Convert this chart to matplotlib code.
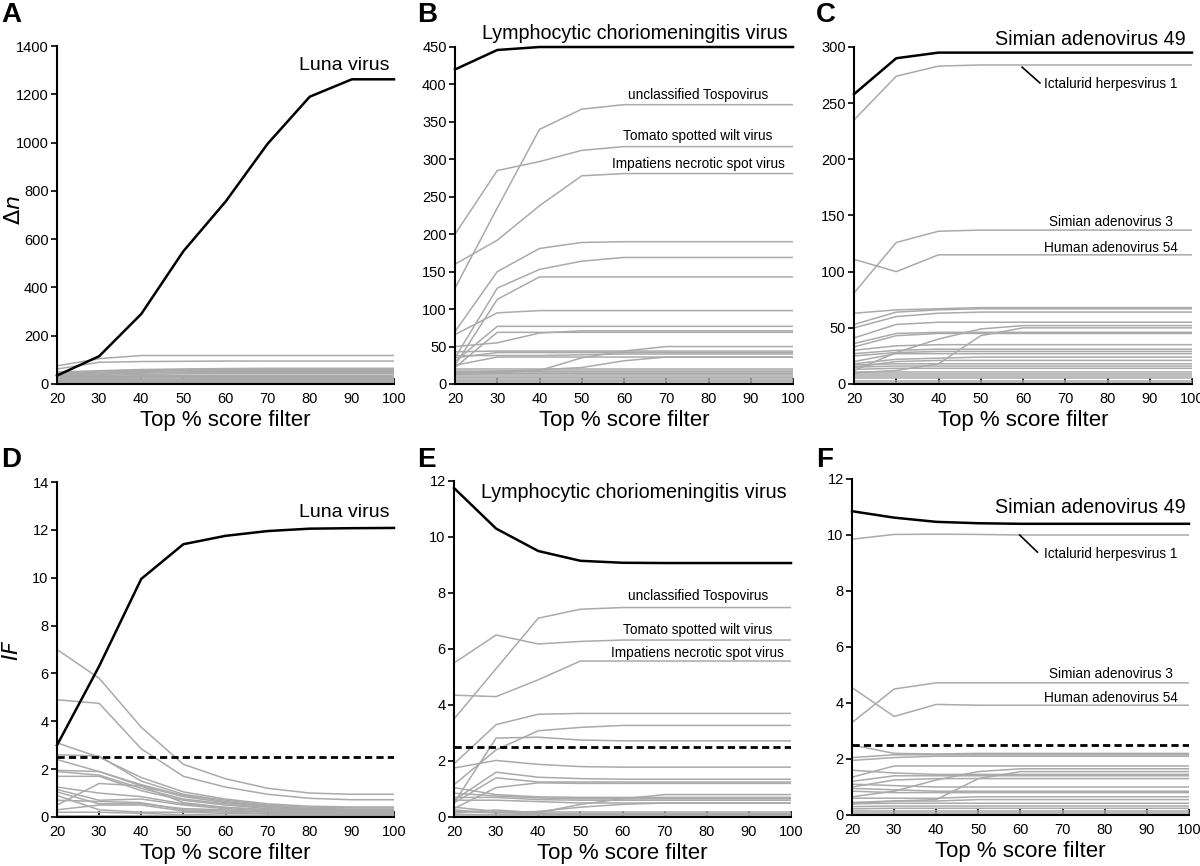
import matplotlib
matplotlib.use("Agg")
import matplotlib.pyplot as plt

plt.rcParams['font.family'] = ['Liberation Sans', 'DejaVu Sans']

x_filter = [20, 30, 40, 50, 60, 70, 80, 90, 100]

# panel A: delta n, Luna virus
luna_dn = [35, 115, 290, 550, 755, 995, 1190, 1262, 1262]
luna_dn_others = [
    [75, 105, 118, 118, 118, 118, 118, 118, 118],
    [62, 90, 93, 94, 95, 95, 95, 95, 95],
    [50, 55, 60, 62, 64, 65, 65, 65, 65],
    [45, 52, 58, 60, 62, 63, 63, 63, 63],
    [40, 50, 55, 58, 60, 60, 60, 60, 60],
    [38, 45, 52, 55, 57, 57, 57, 57, 57],
    [35, 42, 48, 50, 52, 52, 52, 52, 52],
    [30, 40, 45, 47, 48, 48, 48, 48, 48],
    [28, 35, 40, 42, 43, 43, 43, 43, 43],
    [25, 32, 34, 35, 36, 36, 36, 36, 36],
    [22, 28, 31, 32, 33, 33, 33, 33, 33],
    [20, 25, 28, 29, 30, 30, 30, 30, 30],
    [18, 22, 25, 26, 26, 26, 26, 26, 26],
    [15, 18, 20, 21, 22, 22, 22, 22, 22],
    [12, 15, 17, 18, 18, 18, 18, 18, 18],
    [10, 12, 14, 14, 14, 14, 14, 14, 14],
    [8, 9, 10, 10, 10, 10, 10, 10, 10],
    [5, 6, 6, 6, 6, 6, 6, 6, 6],
    [3, 3, 3, 3, 3, 3, 3, 3, 3],
]

# panel B: delta n, LCMV
lcmv_dn = [420, 446, 450, 450, 450, 450, 450, 450, 450]
lcmv_dn_others = [
    [128, 235, 340, 367, 373, 373, 373, 373, 373],
    [200, 285, 297, 312, 317, 317, 317, 317, 317],
    [160, 192, 238, 278, 281, 281, 281, 281, 281],
    [70, 150, 181, 189, 190, 190, 190, 190, 190],
    [35, 128, 153, 164, 169, 169, 169, 169, 169],
    [25, 113, 143, 143, 143, 143, 143, 143, 143],
    [66, 95, 98, 98, 98, 98, 98, 98, 98],
    [30, 77, 77, 77, 77, 77, 77, 77, 77],
    [50, 55, 68, 71, 71, 71, 71, 71, 71],
    [22, 69, 69, 69, 69, 69, 69, 69, 69],
    [15, 15, 18, 35, 44, 50, 50, 50, 50],
    [14, 17, 19, 22, 31, 36, 36, 36, 36],
    [43, 44, 44, 44, 44, 44, 44, 44, 44],
    [35, 42, 42, 42, 42, 42, 42, 42, 42],
    [38, 38, 38, 39, 40, 40, 40, 40, 40],
    [25, 36, 36, 36, 36, 36, 36, 36, 36],
    [20, 20, 20, 20, 20, 20, 20, 20, 20],
    [18, 18, 18, 18, 18, 18, 18, 18, 18],
    [16, 16, 16, 16, 16, 16, 16, 16, 16],
    [13, 14, 14, 14, 14, 14, 14, 14, 14],
    [12, 12, 12, 12, 12, 12, 12, 12, 12],
    [10, 10, 10, 10, 10, 10, 10, 10, 10],
    [8, 8, 8, 8, 8, 8, 8, 8, 8],
    [6, 6, 6, 6, 6, 6, 6, 6, 6],
    [4, 4, 4, 4, 4, 4, 4, 4, 4],
    [2, 2, 2, 2, 2, 2, 2, 2, 2],
]

# panel C: delta n, Simian adenovirus 49
sadv_dn = [258, 290, 295, 295, 295, 295, 295, 295, 295]
sadv_dn_others = [
    [235, 274, 283, 284, 284, 284, 284, 284, 284],
    [81, 126, 136, 137, 137, 137, 137, 137, 137],
    [111, 100, 115, 115, 115, 115, 115, 115, 115],
    [63, 66, 67, 68, 68, 68, 68, 68, 68],
    [53, 64, 66, 67, 67, 67, 67, 67, 67],
    [50, 60, 63, 64, 64, 64, 64, 64, 64],
    [41, 53, 55, 55, 55, 55, 55, 55, 55],
    [12, 28, 40, 49, 52, 52, 52, 52, 52],
    [10, 12, 18, 43, 50, 50, 50, 50, 50],
    [36, 45, 46, 46, 46, 46, 46, 46, 46],
    [33, 43, 45, 45, 45, 45, 45, 45, 45],
    [30, 34, 35, 35, 35, 35, 35, 35, 35],
    [27, 30, 31, 31, 31, 31, 31, 31, 31],
    [25, 28, 29, 29, 29, 29, 29, 29, 29],
    [20, 27, 27, 27, 27, 27, 27, 27, 27],
    [18, 22, 23, 24, 24, 24, 24, 24, 24],
    [15, 20, 21, 21, 21, 21, 21, 21, 21],
    [17, 18, 18, 18, 18, 18, 18, 18, 18],
    [15, 16, 16, 16, 16, 16, 16, 16, 16],
    [13, 14, 14, 14, 14, 14, 14, 14, 14],
    [11, 11, 11, 11, 11, 11, 11, 11, 11],
    [9, 9, 9, 9, 9, 9, 9, 9, 9],
    [7, 7, 7, 7, 7, 7, 7, 7, 7],
    [5, 5, 5, 5, 5, 5, 5, 5, 5],
    [3, 3, 3, 3, 3, 3, 3, 3, 3],
    [1, 1, 1, 1, 1, 1, 1, 1, 1],
]

# panel D: IF, Luna virus
luna_if = [3.0, 6.3, 9.95, 11.4, 11.75, 11.95, 12.05, 12.07, 12.08]
luna_if_others = [
    [7.0, 5.8, 3.75, 2.2, 1.6, 1.2, 1.0, 0.95, 0.95],
    [4.9, 4.75, 2.85, 1.7, 1.25, 0.95, 0.78, 0.72, 0.72],
    [3.1, 2.5, 1.65, 1.05, 0.75, 0.55, 0.45, 0.42, 0.42],
    [2.6, 2.55, 1.5, 0.95, 0.7, 0.5, 0.4, 0.38, 0.38],
    [2.4, 1.9, 1.35, 0.9, 0.65, 0.45, 0.35, 0.33, 0.33],
    [1.95, 1.9, 1.3, 0.85, 0.6, 0.45, 0.35, 0.3, 0.3],
    [1.9, 1.75, 1.2, 0.75, 0.55, 0.4, 0.3, 0.28, 0.28],
    [1.7, 1.7, 1.1, 0.7, 0.5, 0.35, 0.3, 0.25, 0.25],
    [1.25, 1.0, 0.85, 0.55, 0.4, 0.3, 0.25, 0.22, 0.22],
    [1.15, 0.7, 0.75, 0.5, 0.35, 0.25, 0.2, 0.2, 0.2],
    [0.5, 1.4, 1.3, 0.6, 0.4, 0.3, 0.25, 0.22, 0.22],
    [1.05, 0.55, 0.55, 0.35, 0.3, 0.2, 0.18, 0.15, 0.15],
    [0.9, 0.3, 0.2, 0.2, 0.15, 0.12, 0.1, 0.1, 0.1],
    [0.7, 0.65, 0.6, 0.3, 0.25, 0.2, 0.15, 0.12, 0.12],
    [0.3, 0.5, 0.5, 0.25, 0.2, 0.15, 0.12, 0.1, 0.1],
    [0.2, 0.2, 0.15, 0.1, 0.08, 0.06, 0.05, 0.05, 0.05],
    [0.05, 0.05, 0.05, 0.05, 0.03, 0.03, 0.03, 0.03, 0.03],
]

# panel E: IF, LCMV
lcmv_if = [11.75, 10.3, 9.5, 9.15, 9.08, 9.07, 9.07, 9.07, 9.07]
lcmv_if_others = [
    [3.5, 5.3, 7.1, 7.42, 7.48, 7.48, 7.48, 7.48, 7.48],
    [5.5, 6.5, 6.18, 6.27, 6.32, 6.32, 6.32, 6.32, 6.32],
    [4.35, 4.3, 4.9, 5.57, 5.57, 5.57, 5.57, 5.57, 5.57],
    [1.9, 3.3, 3.67, 3.7, 3.7, 3.7, 3.7, 3.7, 3.7],
    [1.15, 2.4, 3.08, 3.2, 3.27, 3.27, 3.27, 3.27, 3.27],
    [0.5, 2.82, 2.85, 2.75, 2.72, 2.72, 2.72, 2.72, 2.72],
    [1.75, 2.02, 1.88, 1.8, 1.78, 1.78, 1.78, 1.78, 1.78],
    [0.6, 1.6, 1.42, 1.37, 1.35, 1.35, 1.35, 1.35, 1.35],
    [0.5, 1.4, 1.25, 1.25, 1.25, 1.25, 1.25, 1.25, 1.25],
    [0.3, 1.05, 1.22, 1.2, 1.2, 1.2, 1.2, 1.2, 1.2],
    [0.15, 0.25, 0.15, 0.45, 0.65, 0.8, 0.8, 0.8, 0.8],
    [1.05, 0.8, 0.72, 0.7, 0.7, 0.7, 0.7, 0.7, 0.7],
    [0.85, 0.75, 0.68, 0.65, 0.65, 0.65, 0.65, 0.65, 0.65],
    [0.7, 0.7, 0.62, 0.6, 0.6, 0.6, 0.6, 0.6, 0.6],
    [0.6, 0.6, 0.55, 0.5, 0.5, 0.5, 0.5, 0.5, 0.5],
    [0.2, 0.15, 0.2, 0.35, 0.45, 0.5, 0.5, 0.5, 0.5],
    [0.35, 0.2, 0.18, 0.18, 0.18, 0.18, 0.18, 0.18, 0.18],
    [0.25, 0.15, 0.12, 0.12, 0.12, 0.12, 0.12, 0.12, 0.12],
    [0.1, 0.08, 0.08, 0.08, 0.08, 0.08, 0.08, 0.08, 0.08],
    [0.04, 0.04, 0.04, 0.04, 0.04, 0.04, 0.04, 0.04, 0.04],
]

# panel F: IF, Simian adenovirus 49
sadv_if = [10.85, 10.62, 10.47, 10.42, 10.4, 10.4, 10.4, 10.4, 10.4]
sadv_if_others = [
    [9.85, 10.02, 10.03, 10.02, 10.0, 10.0, 10.0, 10.0, 10.0],
    [3.3, 4.5, 4.72, 4.72, 4.72, 4.72, 4.72, 4.72, 4.72],
    [4.55, 3.52, 3.95, 3.92, 3.92, 3.92, 3.92, 3.92, 3.92],
    [2.5, 2.2, 2.18, 2.2, 2.2, 2.2, 2.2, 2.2, 2.2],
    [2.05, 2.15, 2.15, 2.15, 2.15, 2.15, 2.15, 2.15, 2.15],
    [1.95, 2.05, 2.1, 2.1, 2.1, 2.1, 2.1, 2.1, 2.1],
    [1.35, 1.75, 1.75, 1.75, 1.75, 1.75, 1.75, 1.75, 1.75],
    [1.6, 1.5, 1.45, 1.45, 1.45, 1.45, 1.45, 1.45, 1.45],
    [1.2, 1.4, 1.4, 1.4, 1.4, 1.4, 1.4, 1.4, 1.4],
    [1.0, 1.25, 1.3, 1.3, 1.3, 1.3, 1.3, 1.3, 1.3],
    [0.65, 0.85, 1.25, 1.55, 1.65, 1.65, 1.65, 1.65, 1.65],
    [0.4, 0.5, 0.55, 1.3, 1.55, 1.55, 1.55, 1.55, 1.55],
    [0.95, 0.9, 0.85, 0.85, 0.85, 0.85, 0.85, 0.85, 0.85],
    [0.85, 0.8, 0.8, 0.8, 0.8, 0.8, 0.8, 0.8, 0.8],
    [1.1, 1.05, 1.0, 1.0, 1.0, 1.0, 1.0, 1.0, 1.0],
    [0.6, 0.6, 0.6, 0.65, 0.65, 0.65, 0.65, 0.65, 0.65],
    [0.45, 0.5, 0.5, 0.55, 0.55, 0.55, 0.55, 0.55, 0.55],
    [0.4, 0.42, 0.42, 0.42, 0.42, 0.42, 0.42, 0.42, 0.42],
    [0.3, 0.32, 0.32, 0.32, 0.32, 0.32, 0.32, 0.32, 0.32],
    [0.22, 0.24, 0.24, 0.24, 0.24, 0.24, 0.24, 0.24, 0.24],
    [0.15, 0.15, 0.15, 0.15, 0.15, 0.15, 0.15, 0.15, 0.15],
    [0.08, 0.08, 0.08, 0.08, 0.08, 0.08, 0.08, 0.08, 0.08],
]

GRAY = '#aaaaaa'
W, H = 1200, 866
DASH = (2.6, 1.5)


def make_ax(fig, left, top, right, bottom):
    ax = fig.add_axes([left / W, 1 - bottom / H, (right - left) / W, (bottom - top) / H])
    ax.spines['top'].set_visible(False)
    ax.spines['right'].set_visible(False)
    ax.spines['left'].set_linewidth(1.5)
    ax.spines['bottom'].set_linewidth(1.5)
    ax.tick_params(axis='y', direction='out', length=4, width=1.2, labelsize=10.5, pad=2)
    ax.tick_params(axis='x', direction='in', length=4, width=1.2, labelsize=10.5, pad=6)
    ax.set_xlim(20, 100)
    ax.set_xticks(x_filter)
    ax.set_xlabel('Top % score filter', fontsize=16, labelpad=3)
    return ax


def draw(ax, main, others, ymax, yticks):
    for ys in others:
        ax.plot(x_filter, ys, color=GRAY, lw=1.1, clip_on=False, solid_capstyle='butt')
    ax.plot(x_filter, main, color='black', lw=1.8, clip_on=False, zorder=5)
    ax.set_ylim(0, ymax)
    ax.set_yticks(yticks)


fig = plt.figure(figsize=(12, 8.66), dpi=100)

axA = make_ax(fig, 57, 46, 394, 384)
draw(axA, luna_dn, luna_dn_others, 1400, range(0, 1401, 200))
fig.text(14 / W, 1 - 210 / H, r'$\mathit{\Delta n}$', fontsize=16, rotation=90,
         ha='center', va='center')
axA.text(0.988, 0.93, 'Luna virus', transform=axA.transAxes, ha='right', va='baseline', fontsize=14)

axB = make_ax(fig, 455, 47, 793, 384)
draw(axB, lcmv_dn, lcmv_dn_others, 450, range(0, 451, 50))
axB.text(0.985, 1.025, 'Lymphocytic choriomeningitis virus', transform=axB.transAxes,
         ha='right', va='baseline', fontsize=14.2)
axB.text(77.5, 380, 'unclassified Tospovirus', ha='center', va='baseline', fontsize=9.8)
axB.text(77.5, 326, 'Tomato spotted wilt virus', ha='center', va='baseline', fontsize=9.8)
axB.text(77.5, 288, 'Impatiens necrotic spot virus', ha='center', va='baseline', fontsize=9.8)

axC = make_ax(fig, 854, 47, 1192, 384)
draw(axC, sadv_dn, sadv_dn_others, 300, range(0, 301, 50))
axC.text(0.982, 1.006, 'Simian adenovirus 49', transform=axC.transAxes,
         ha='right', va='baseline', fontsize=14.2)
axC.plot([59.8, 64], [282, 268], color='black', lw=1.2)
axC.text(80.8, 263.5, 'Ictalurid herpesvirus 1', ha='center', va='baseline', fontsize=9.8)
axC.text(80.8, 140.6, 'Simian adenovirus 3', ha='center', va='baseline', fontsize=9.8)
axC.text(80.8, 117.5, 'Human adenovirus 54', ha='center', va='baseline', fontsize=9.8)

axD = make_ax(fig, 57, 482, 394, 817)
draw(axD, luna_if, luna_if_others, 14, range(0, 15, 2))
axD.axhline(2.5, color='black', lw=2, dashes=DASH, zorder=6)
fig.text(13 / W, 1 - 650 / H, r'$\mathit{IF}$', fontsize=16, rotation=90,
         ha='center', va='center')
axD.text(0.988, 0.896, 'Luna virus', transform=axD.transAxes, ha='right', va='baseline', fontsize=14)

axE = make_ax(fig, 454, 481, 791, 817)
draw(axE, lcmv_if, lcmv_if_others, 12, range(0, 13, 2))
axE.axhline(2.5, color='black', lw=2, dashes=DASH, zorder=6)
axE.text(0.988, 0.949, 'Lymphocytic choriomeningitis virus', transform=axE.transAxes,
         ha='right', va='baseline', fontsize=14.2)
axE.text(77.9, 7.75, 'unclassified Tospovirus', ha='center', va='baseline', fontsize=9.8)
axE.text(77.9, 6.54, 'Tomato spotted wilt virus', ha='center', va='baseline', fontsize=9.8)
axE.text(77.9, 5.71, 'Impatiens necrotic spot virus', ha='center', va='baseline', fontsize=9.8)

axF = make_ax(fig, 852, 479, 1189, 815)
draw(axF, sadv_if, sadv_if_others, 12, range(0, 13, 2))
axF.axhline(2.5, color='black', lw=2, dashes=DASH, zorder=6)
axF.text(0.991, 0.899, 'Simian adenovirus 49', transform=axF.transAxes,
         ha='right', va='baseline', fontsize=14.2)
axF.plot([59.8, 64], [10.0, 9.39], color='black', lw=1.2)
axF.text(81.5, 9.18, 'Ictalurid herpesvirus 1', ha='center', va='baseline', fontsize=9.8)
axF.text(81.5, 4.89, 'Simian adenovirus 3', ha='center', va='baseline', fontsize=9.8)
axF.text(81.5, 4.04, 'Human adenovirus 54', ha='center', va='baseline', fontsize=9.8)

# panel letters
for letter, px, py in [('A', 1, 22), ('B', 417, 22), ('C', 816, 22),
                       ('D', 1, 467), ('E', 417, 467), ('F', 816, 467)]:
    fig.text(px / W, 1 - py / H, letter, fontsize=20, fontweight='bold', va='baseline', ha='left')

fig.savefig('out.png', dpi=100)
